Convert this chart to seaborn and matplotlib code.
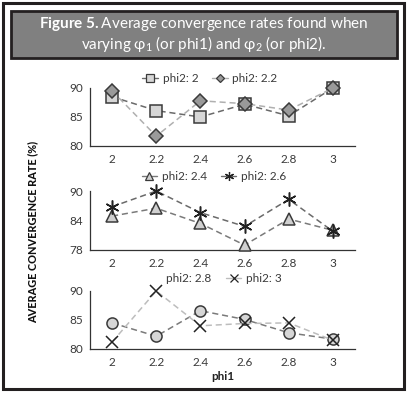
import matplotlib
matplotlib.use("Agg")
import matplotlib.pyplot as plt
import seaborn as sns
import pandas as pd
from matplotlib.patches import Rectangle
from matplotlib.lines import Line2D

sns.set_style("white")
plt.rcParams['font.family'] = ['Lato', 'DejaVu Sans']
plt.rcParams['mathtext.fontset'] = 'custom'
plt.rcParams['mathtext.rm'] = 'Lato'
plt.rcParams['mathtext.it'] = 'Lato:italic'
plt.rcParams['mathtext.bf'] = 'Lato:bold'

phi1 = ["2", "2.2", "2.4", "2.6", "2.8", "3"]
phi2_2_0 = [88.5, 86.1, 85.0, 87.2, 85.2, 90.0]
phi2_2_2 = [89.5, 81.7, 87.8, 87.3, 86.2, 90.0]
phi2_2_4 = [84.9, 86.5, 83.4, 79.0, 84.3, 82.0]
phi2_2_6 = [86.8, 90.0, 85.6, 82.8, 88.3, 81.8]
phi2_2_8 = [84.5, 82.2, 86.6, 85.1, 82.8, 81.7]
phi2_3_0 = [81.2, 90.0, 84.0, 84.4, 84.5, 81.5]

panels = [
    (("phi2: 2", phi2_2_0), ("phi2: 2.2", phi2_2_2), (80, 90), [80, 85, 90]),
    (("phi2: 2.4", phi2_2_4), ("phi2: 2.6", phi2_2_6), (78, 90), [78, 84, 90]),
    (("phi2: 2.8", phi2_2_8), ("phi2: 3", phi2_3_0), (80, 90), [80, 85, 90]),
]
styles = [
    (dict(marker="s", ms=8, mfc="#d6d6d6", mec="#3a3a3a", color="#6a6a6a"),
     dict(marker="D", ms=7, mfc="#9a9a9a", mec="#3a3a3a", color="#b0b0b0")),
    (dict(marker="^", ms=9, mfc="#d0d0d0", mec="#3a3a3a", color="#7a7a7a"),
     dict(marker=(6, 2, 0), ms=10, mfc="none", mec="#222222", color="#6a6a6a")),
    (dict(marker="o", ms=8, mfc="#d6d6d6", mec="#3a3a3a", color="#7a7a7a"),
     dict(marker="x", ms=9, mfc="none", mec="#222222", color="#bdbdbd")),
]

W, H = 408, 393
fig = plt.figure(figsize=(W / 100, H / 100), dpi=100)

# outer frame
fig.patches.append(Rectangle((3 / W, 4 / H), 401 / W, 386 / H, transform=fig.transFigure,
                             fill=False, edgecolor="#231f20", linewidth=2.2))
# title box
fig.patches.append(Rectangle((11 / W, 1 - 58 / H), 386 / W, 47 / H, transform=fig.transFigure,
                             facecolor="#808080", edgecolor="#231f20", linewidth=2.0))
fig.text(0.5, 1 - 24 / H, r"$\mathbf{Figure\ 5.}$Average convergence rates found when",
         ha="center", va="center", color="white", fontsize=11)
fig.text(0.5, 1 - 44 / H, r"varying φ$_1$ (or phi1) and φ$_2$ (or phi2).",
         ha="center", va="center", color="white", fontsize=11)

tops = [88, 191, 291]
bots = [146, 250, 349]
x0, x1 = 90, 355
xpos = list(range(len(phi1)))
legend_y = [79, 177, 279]
legend_x = [210, 214, 214]

for i, ((l1, v1), (l2, v2), ylim, yt) in enumerate(panels):
    ax = fig.add_axes([x0 / W, 1 - bots[i] / H, (x1 - x0) / W, (bots[i] - tops[i]) / H])
    df = pd.DataFrame({"x": xpos * 2, "y": v1 + v2, "s": [l1] * 6 + [l2] * 6})
    handles = []
    for (lab, vals), st in zip(((l1, v1), (l2, v2)), styles[i]):
        sub = df[df.s == lab]
        sns.lineplot(data=sub, x="x", y="y", ax=ax, color=st["color"], linestyle=(0, (4, 2.5)),
                     linewidth=1.1, marker=st["marker"], markersize=st["ms"],
                     markerfacecolor=st["mfc"], markeredgecolor=st["mec"],
                     markeredgewidth=1.1, clip_on=False, legend=False, zorder=3)
        handles.append(Line2D([], [], color=st["color"], linewidth=1.0, marker=st["marker"],
                              markersize=st["ms"] * 0.65, markerfacecolor=st["mfc"],
                              markeredgecolor=st["mec"], markeredgewidth=0.9))
    if i == 2:
        handles[0] = Line2D([], [], color="none", marker=None)
    ax.set_xlim(-0.5, 5.5)
    ax.set_ylim(*ylim)
    ax.set_yticks(yt)
    ax.set_yticklabels([str(t) for t in yt], fontsize=8.5, color="#3a3a3a")
    ax.set_xticks(xpos)
    ax.set_xticklabels(phi1, fontsize=8.5, color="#3a3a3a")
    ax.set_xticks([p - 0.5 for p in range(7)], minor=True)
    ax.tick_params(axis="x", which="major", length=0, pad=6)
    ax.tick_params(axis="x", which="minor", length=3, direction="out", color="#333333", width=0.8)
    ax.tick_params(axis="y", which="major", length=3, direction="out", color="#333333", width=0.8, pad=2)
    for s in ["top", "right"]:
        ax.spines[s].set_visible(False)
    for s in ["left", "bottom"]:
        ax.spines[s].set_color("#333333")
        ax.spines[s].set_linewidth(0.9)
    ax.set_xlabel("")
    ax.set_ylabel("")
    leg = fig.legend(handles, [l1, l2], loc="center", ncol=2, frameon=False,
                     bbox_to_anchor=(legend_x[i] / W, 1 - legend_y[i] / H), fontsize=8.5,
                     handlelength=1.3, handletextpad=0.4, columnspacing=1.2)
    for t in leg.get_texts():
        t.set_color("#3a3a3a")
    if i == 2:
        ax.set_xlabel("phi1", fontsize=8.5, fontweight="bold", color="#222222", labelpad=2)

fig.text(33 / W, 1 - 232 / H, "AVERAGE CONVERGENCE RATE (%)", rotation=90, ha="center",
         va="center", fontsize=7.8, fontweight="black", color="#111111")

fig.savefig("out.png", dpi=100)
